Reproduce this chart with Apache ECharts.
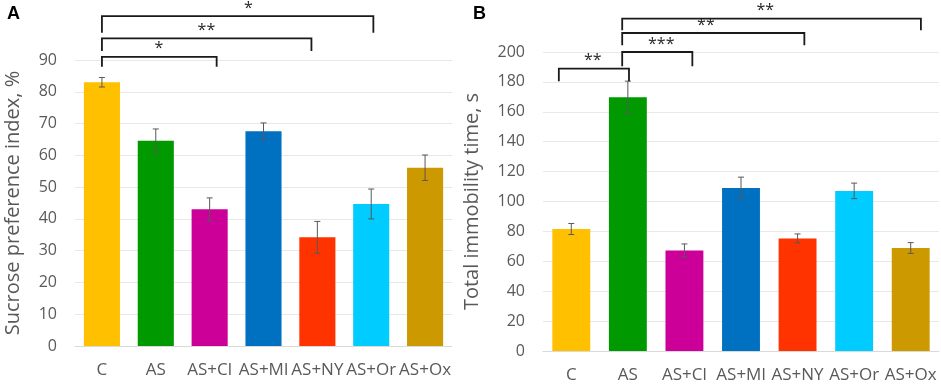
<!DOCTYPE html>
<html>
<head>
<meta charset="utf-8">
<script src="https://cdn.jsdelivr.net/npm/echarts@6/dist/echarts.min.js"></script>
<style>
  html, body { margin: 0; padding: 0; background: #fff; }
  #main { width: 941px; height: 384px; }
</style>
</head>
<body>
<div id="main"></div>
<script>
var categories = ['C', 'AS', 'AS+Cl', 'AS+Ml', 'AS+NY', 'AS+Or', 'AS+Ox'];
var barColors = ['#FFC000', '#009900', '#CC0099', '#0070C0', '#FF3300', '#00CCFF', '#CC9900'];

// panel A
var sucrose = [83, 64.6, 43, 67.6, 34.2, 44.7, 56.1];
var sucroseErr = [1.5, 3.7, 3.6, 2.6, 5, 4.7, 4];
// panel B
var immobility = [81.6, 169.8, 67.3, 109.1, 75.3, 107.1, 68.9];
var immobilityErr = [3.7, 10.7, 4.3, 7.2, 3, 5.2, 3.6];

// significance brackets: from/to in category units, top/foot in axis units
var bracketsA = {
    from: [0, 0, 0],
    to: [2.13, 3.89, 5.04],
    top: [91, 96.8, 103.8],
    foot: [87.9, 92.8, 98.6],
    label: ['*', '**', '*'],
    labelAt: [1.06, 1.94, 2.72]
};
var bracketsB = {
    from: [-0.22, 0.9, 0.9, 0.9],
    to: [1.02, 2.14, 4.12, 6.18],
    top: [188.9, 200, 212.7, 222.3],
    foot: [180.5, 190.5, 204.5, 214.5],
    label: ['**', '***', '**', '**'],
    labelAt: [0.38, 1.59, 2.38, 3.43]
};

function barData(values) {
    return values.map(function (v, i) {
        return { value: v, itemStyle: { color: barColors[i] } };
    });
}

function errorSeries(idx, values, errs) {
    return {
        type: 'custom',
        xAxisIndex: idx, yAxisIndex: idx,
        clip: false, z: 5, silent: true,
        data: values.map(function (v, i) { return [i, v - errs[i], v + errs[i]]; }),
        renderItem: function (params, api) {
            var lo = api.coord([api.value(0), api.value(1)]);
            var hi = api.coord([api.value(0), api.value(2)]);
            var w = 3;
            var st = { stroke: '#595959', lineWidth: 1 };
            return { type: 'group', children: [
                { type: 'line', shape: { x1: hi[0], y1: hi[1], x2: lo[0], y2: lo[1] }, style: st },
                { type: 'line', shape: { x1: hi[0] - w, y1: hi[1], x2: hi[0] + w, y2: hi[1] }, style: st },
                { type: 'line', shape: { x1: lo[0] - w, y1: lo[1], x2: lo[0] + w, y2: lo[1] }, style: st }
            ] };
        }
    };
}

function bracketSeries(idx, b) {
    return {
        type: 'custom',
        xAxisIndex: idx, yAxisIndex: idx,
        clip: false, z: 6, silent: true,
        data: b.from.map(function () { return [0, 0]; }),
        renderItem: function (params, api) {
            var i = params.dataIndex;
            var band = api.size([1, 0])[0];
            var x0 = api.coord([0, 0])[0];
            var xa = x0 + b.from[i] * band;
            var xb = x0 + b.to[i] * band;
            var yt = api.coord([0, b.top[i]])[1];
            var yf = api.coord([0, b.foot[i]])[1];
            var xs = x0 + b.labelAt[i] * band;
            return { type: 'group', children: [
                { type: 'polyline', shape: { points: [[xa, yf], [xa, yt], [xb, yt], [xb, yf]] },
                  style: { stroke: '#1a1a1a', lineWidth: 1.8, fill: null } },
                { type: 'text', x: xs, y: yt - 8,
                  style: { text: b.label[i], fill: '#262626', font: '16px "Open Sans"',
                           align: 'center', verticalAlign: 'middle' } }
            ] };
        }
    };
}

var axisFont = { color: '#595959', fontFamily: 'Open Sans', fontSize: 16 };

function catAxis(idx) {
    return {
        type: 'category', gridIndex: idx, data: categories,
        axisLine: { lineStyle: { color: '#d9d9d9', width: 1 } },
        axisTick: { show: false },
        axisLabel: { margin: 16, interval: 0, color: '#595959', fontFamily: 'Open Sans', fontSize: 17 }
    };
}

function valAxis(idx, max, interval, name, gap) {
    return {
        type: 'value', gridIndex: idx, min: 0, max: max, interval: interval,
        name: name, nameLocation: 'middle', nameGap: gap,
        nameTextStyle: { color: '#595959', fontFamily: 'Open Sans', fontSize: 20 },
        axisLine: { show: false }, axisTick: { show: false },
        axisLabel: Object.assign({ margin: 18 }, axisFont),
        splitLine: { lineStyle: { color: '#e8e8e8', width: 1 } }
    };
}

var option = {
    animation: false,
    backgroundColor: '#fff',
    textStyle: { fontFamily: 'Open Sans' },
    title: [
        { text: 'A', left: 2, top: 0, textStyle: { fontFamily: 'Liberation Sans', fontWeight: 'bold', fontSize: 18, color: '#000' } },
        { text: 'B', left: 468, top: 0, textStyle: { fontFamily: 'Liberation Sans', fontWeight: 'bold', fontSize: 18, color: '#000' } }
    ],
    grid: [
        { left: 75, right: 489, top: 60, bottom: 38 },
        { left: 543, right: 2, top: 52, bottom: 32 }
    ],
    xAxis: [catAxis(0), catAxis(1)],
    yAxis: [
        valAxis(0, 90, 10, 'Sucrose preference index, %', 52),
        valAxis(1, 200, 20, 'Total immobility time, s', 61)
    ],
    series: [
        { type: 'bar', xAxisIndex: 0, yAxisIndex: 0, barCategoryGap: '33%', data: barData(sucrose) },
        { type: 'bar', xAxisIndex: 1, yAxisIndex: 1, barCategoryGap: '33%', data: barData(immobility) },
        errorSeries(0, sucrose, sucroseErr),
        errorSeries(1, immobility, immobilityErr),
        bracketSeries(0, bracketsA),
        bracketSeries(1, bracketsB)
    ]
};

var chart = echarts.init(document.getElementById('main'));
chart.setOption(option);
</script>
</body>
</html>
